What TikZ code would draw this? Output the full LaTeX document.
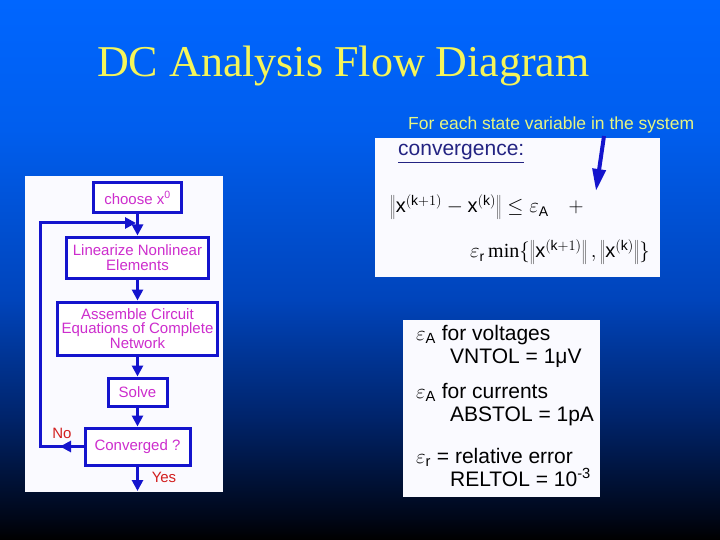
\documentclass[tikz,border=0pt]{standalone}
\usepackage{fontspec}
\setmainfont{Liberation Serif}
\setsansfont{Liberation Sans}
\newfontfamily\arial{Liberation Sans}
\usetikzlibrary{arrows.meta,calc}
\definecolor{bgA}{RGB}{0,102,255}
\definecolor{bgB}{RGB}{0,94,238}
\definecolor{bgC}{RGB}{0,68,187}
\definecolor{bgD}{RGB}{0,35,105}
\definecolor{bgE}{RGB}{0,6,22}
\definecolor{titleY}{RGB}{245,245,90}
\definecolor{noteY}{RGB}{230,245,130}
\definecolor{flowB}{RGB}{20,20,205}
\definecolor{flowM}{RGB}{205,45,205}
\definecolor{flowR}{RGB}{210,30,30}
\definecolor{navy}{RGB}{35,35,130}
\definecolor{panelW}{RGB}{250,250,255}
\begin{document}
\begin{tikzpicture}[x=1pt,y=-1pt,
  fbox/.style={draw=flowB, line width=3pt, fill=white, text=flowM,
    font=\arial\fontsize{15}{14.5}\selectfont, align=center, inner sep=1pt},
  flow/.style={draw=flowB, line width=3pt},
  tip/.style={-{Triangle[length=11pt,width=11pt]}},
  lbl/.style={text=flowR, font=\arial\fontsize{15}{15}\selectfont, inner sep=0pt},
  panel/.style={fill=panelW, draw=none},
  ptext/.style={font=\arial\fontsize{21}{21}\selectfont, text=black, inner sep=0pt, anchor=base west}
]
\useasboundingbox (0,0) rectangle (720,540);
% background
\shade[top color=bgA, bottom color=bgB] (0,0) rectangle (720,130);
\shade[top color=bgB, bottom color=bgC] (0,129.5) rectangle (720,300);
\shade[top color=bgC, bottom color=bgD] (0,299.5) rectangle (720,420);
\shade[top color=bgD, bottom color=bgE] (0,419.5) rectangle (720,520);
\shade[top color=bgE, bottom color=black] (0,519.5) rectangle (720,540);

% title
\node[anchor=base west, inner sep=0pt, text=titleY, font=\fontsize{44}{44}\selectfont] (title) at (97,77) {DC Analysis Flow Diagram};

% left panel
\node[panel, anchor=north west, minimum width=198pt, minimum height=316pt, inner sep=0pt] (lpanel) at (25,176) {};
\node[fbox, minimum width=88pt, minimum height=30pt] (choose) at (137.5,198) {choose x\textsuperscript{0}};
\node[fbox, minimum width=142pt, minimum height=41pt] (lin) at (137.5,257.5) {Linearize Nonlinear\\Elements};
\node[fbox, minimum width=160pt, minimum height=53pt] (asm) at (137.5,328.5) {Assemble Circuit\\Equations of Complete\\Network};
\node[fbox, minimum width=59pt, minimum height=28pt] (solve) at (137.5,392) {Solve};
\node[fbox, minimum width=105pt, minimum height=37pt] (conv) at (137.5,446.5) {Converged ?};
\coordinate (yesEnd) at (137.5,491);
\coordinate (fbB) at (40,446.5);
\coordinate (fbT) at (40,223);
\coordinate (jn) at (136,223);
\coordinate (noTip) at (60,446.5);

\draw[flow,tip] (choose) -- (lin);
\draw[flow,tip] (lin) -- (asm);
\draw[flow,tip] (asm) -- (solve);
\draw[flow,tip] (solve) -- (conv);
\draw[flow,tip] (conv) -- (yesEnd);
\draw[flow,tip] (conv.west) -- (fbB) -- (fbT) -- (jn);
\draw[flow,tip] (conv.west) -- (noTip);
\node[lbl] (no) at (62,433) {No};
\node[lbl] (yes) at (164,477) {Yes};

% upper right panel
\node[panel, anchor=north west, minimum width=285pt, minimum height=139pt, inner sep=0pt] (upanel) at (375,138) {};
\node[anchor=base west, inner sep=0pt, text=noteY, font=\arial\fontsize{17.5}{17.5}\selectfont] (note) at (408,130) {For each state variable in the system};
\coordinate (aStart) at (604,136);
\coordinate (aEnd) at (596,191);
\draw[draw=flowB, line width=4pt, -{Triangle[length=22pt,width=13pt]}] (aStart) -- (aEnd);
\node[anchor=base west, inner sep=0pt, text=navy, font=\arial\fontsize{21}{21}\selectfont] (convt) at (398,156) {\underline{convergence:}};
\node[anchor=base west, inner sep=0pt, font=\fontsize{20}{20}\selectfont] (eq1) at (390,213)
  {$\left\|\mathsf{x}^{(\mathsf{k}+1)}-\mathsf{x}^{(\mathsf{k})}\right\|\le\varepsilon_{\mathsf{A}}\quad+$};
\node[anchor=base east, inner sep=0pt, font=\fontsize{20}{20}\selectfont] (eq2) at (650,258)
  {$\varepsilon_{\mathsf{r}}\min\{\left\|\mathsf{x}^{(\mathsf{k}+1)}\right\|,\left\|\mathsf{x}^{(\mathsf{k})}\right\|\}$};

% lower right panel
\node[panel, anchor=north west, minimum width=197pt, minimum height=177pt, inner sep=0pt] (lrpanel) at (403,320) {};
\node[ptext] (t1) at (416,340) {$\varepsilon_{\mathsf{A}}$ for voltages};
\node[ptext] (t2) at (450,363) {VNTOL = 1μV};
\node[ptext] (t3) at (416,398) {$\varepsilon_{\mathsf{A}}$ for currents};
\node[ptext] (t4) at (450,421) {ABSTOL = 1pA};
\node[ptext] (t5) at (416,463) {$\varepsilon_{\mathsf{r}}$ = relative error};
\node[ptext] (t6) at (450,486) {RELTOL = 10\textsuperscript{-3}};
\end{tikzpicture}
\end{document}
